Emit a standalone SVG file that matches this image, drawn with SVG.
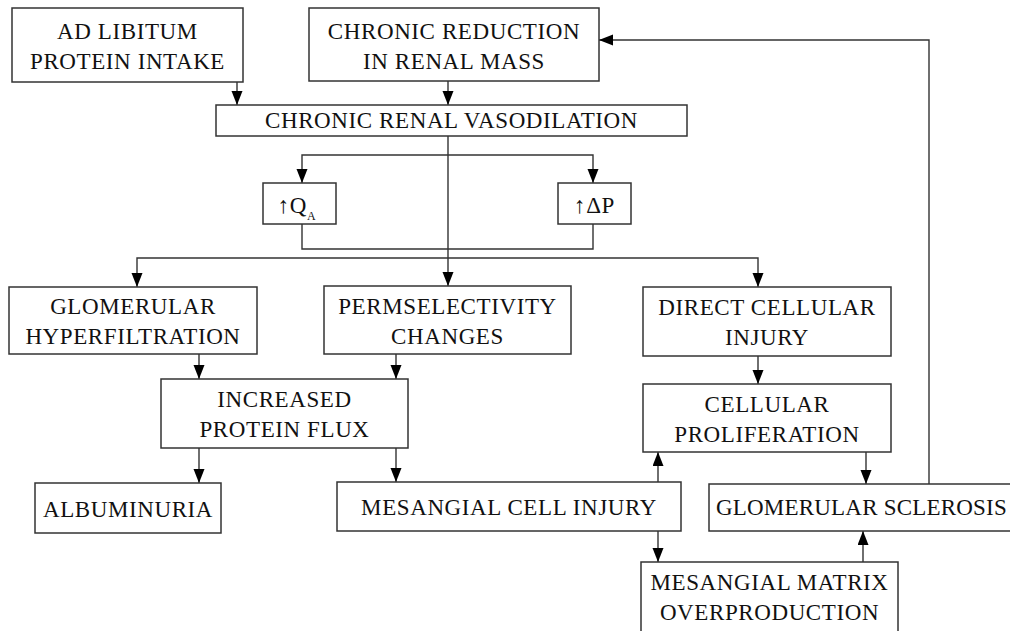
<svg xmlns="http://www.w3.org/2000/svg" width="1010" height="631" viewBox="0 0 1010 631">
<style>
.box{fill:#fff;stroke:#333;stroke-width:1.5}
.t{font-family:"Liberation Serif","Times New Roman",serif;font-size:23px;letter-spacing:0.6px;fill:#111;text-anchor:middle}
.ts{font-family:"Liberation Serif","Times New Roman",serif;font-size:23px;letter-spacing:0.2px;fill:#111;text-anchor:start}
.c{fill:none;stroke:#333;stroke-width:1.4}
</style>
<defs>
<marker id="ah" markerUnits="userSpaceOnUse" markerWidth="15" markerHeight="12" refX="14" refY="5.5" orient="auto">
<path d="M0,0 L14,5.5 L0,11 z" fill="#000"/>
</marker>
</defs>
<rect width="1010" height="631" fill="#fff"/>
<g id="connectors">
<path class="c" d="M237,82 V105" marker-end="url(#ah)"/>
<path class="c" d="M448,81 V105" marker-end="url(#ah)"/>
<path class="c" d="M448,136 V286" marker-end="url(#ah)"/>
<path class="c" d="M448,155 H302 V183" marker-end="url(#ah)"/>
<path class="c" d="M448,155 H593 V183" marker-end="url(#ah)"/>
<path class="c" d="M302,224 V249 H593 V224"/>
<path class="c" d="M448,258 H137 V287" marker-end="url(#ah)"/>
<path class="c" d="M448,258 H758 V287" marker-end="url(#ah)"/>
<path class="c" d="M199,354 V379" marker-end="url(#ah)"/>
<path class="c" d="M396,354 V379" marker-end="url(#ah)"/>
<path class="c" d="M758,356 V384" marker-end="url(#ah)"/>
<path class="c" d="M199,448 V483" marker-end="url(#ah)"/>
<path class="c" d="M396,448 V482" marker-end="url(#ah)"/>
<path class="c" d="M658,482 V452" marker-end="url(#ah)"/>
<path class="c" d="M658,531 V562" marker-end="url(#ah)"/>
<path class="c" d="M866,452 V484" marker-end="url(#ah)"/>
<path class="c" d="M863,562 V531" marker-end="url(#ah)"/>
<path class="c" d="M929,484 V40 H599" marker-end="url(#ah)"/>
</g>
<g id="n-adlib">
<rect class="box" x="12" y="8" width="231" height="74"/>
<text class="t" x="127.5" y="39">AD LIBITUM</text>
<text class="t" x="127.5" y="69">PROTEIN INTAKE</text>
</g>
<g id="n-reduction">
<rect class="box" x="309" y="8" width="290" height="73"/>
<text class="t" x="454" y="38.5">CHRONIC REDUCTION</text>
<text class="t" x="454" y="68.5">IN RENAL MASS</text>
</g>
<g id="n-vasodilation">
<rect class="box" x="216" y="105" width="471" height="31"/>
<text class="t" x="451.5" y="128">CHRONIC RENAL VASODILATION</text>
</g>
<g id="n-qa">
<rect class="box" x="263" y="183" width="73" height="41"/>
<text class="t" x="297" y="213">↑Q<tspan font-size="12" dy="7">A</tspan></text>
</g>
<g id="n-dp">
<rect class="box" x="558" y="183" width="73" height="41"/>
<text class="t" x="594.5" y="212.5">↑ΔP</text>
</g>
<g id="n-hyperfiltration">
<rect class="box" x="9" y="287" width="248" height="67"/>
<text class="t" x="133" y="314">GLOMERULAR</text>
<text class="t" x="133" y="344">HYPERFILTRATION</text>
</g>
<g id="n-permselectivity">
<rect class="box" x="324" y="286" width="247" height="68"/>
<text class="t" x="447.5" y="313.5">PERMSELECTIVITY</text>
<text class="t" x="447.5" y="343.5">CHANGES</text>
</g>
<g id="n-direct">
<rect class="box" x="643" y="287" width="248" height="69"/>
<text class="t" x="767" y="315">DIRECT CELLULAR</text>
<text class="t" x="767" y="345">INJURY</text>
</g>
<g id="n-flux">
<rect class="box" x="161" y="379" width="247" height="69"/>
<text class="t" x="284.5" y="407">INCREASED</text>
<text class="t" x="284.5" y="437">PROTEIN FLUX</text>
</g>
<g id="n-proliferation">
<rect class="box" x="643" y="384" width="248" height="68"/>
<text class="t" x="767" y="411.5">CELLULAR</text>
<text class="t" x="767" y="441.5">PROLIFERATION</text>
</g>
<g id="n-albuminuria">
<rect class="box" x="35" y="483" width="186" height="50"/>
<text class="t" x="128" y="516.5">ALBUMINURIA</text>
</g>
<g id="n-mesangial">
<rect class="box" x="337" y="482" width="344" height="49"/>
<text class="t" x="509" y="514.5">MESANGIAL CELL INJURY</text>
</g>
<g id="n-sclerosis">
<rect class="box" x="709" y="484" width="310" height="47"/>
<text class="ts" x="716" y="515">GLOMERULAR SCLEROSIS</text>
</g>
<g id="n-matrix">
<rect class="box" x="641" y="562" width="257" height="75"/>
<text class="t" x="769.5" y="590">MESANGIAL MATRIX</text>
<text class="t" x="769.5" y="620">OVERPRODUCTION</text>
</g>
</svg>
